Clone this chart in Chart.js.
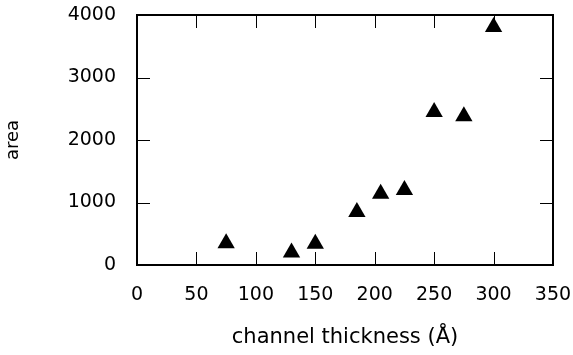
<!DOCTYPE html>
<html>
<head>
<meta charset="utf-8">
<script src="https://cdn.jsdelivr.net/npm/chart.js@4/dist/chart.umd.min.js"></script>
<style>
  html, body { margin: 0; padding: 0; background: #fff; }
  #chart { display: block; }
</style>
</head>
<body>
<canvas id="chart" width="573" height="355"></canvas>
<script>
// donnees
const thickness = [75, 130, 150, 185, 205, 225, 250, 275, 300];
const area = [350, 200, 340, 850, 1140, 1200, 2450, 2380, 3810];
const xTicks = [0, 50, 100, 150, 200, 250, 300, 350];
const yTicks = [0, 1000, 2000, 3000, 4000];

const points = thickness.map((t, i) => ({ x: t, y: area[i] }));

// cadre + graduations vers l'interieur sur les 4 cotes
const boxTicks = {
    id: 'boxTicks',
    afterDraw(chart) {
        const { ctx, chartArea: a, scales } = chart;
        const len = 13;
        ctx.save();
        ctx.strokeStyle = '#000';
        ctx.lineWidth = 1;
        ctx.beginPath();
        xTicks.forEach(v => {
            const px = Math.round(scales.x.getPixelForValue(v)) + 0.5;
            ctx.moveTo(px, a.bottom); ctx.lineTo(px, a.bottom - len);
            ctx.moveTo(px, a.top); ctx.lineTo(px, a.top + len);
        });
        yTicks.forEach(v => {
            const py = Math.round(scales.y.getPixelForValue(v)) + 0.5;
            ctx.moveTo(a.left, py); ctx.lineTo(a.left + len, py);
            ctx.moveTo(a.right, py); ctx.lineTo(a.right - len, py);
        });
        ctx.stroke();
        ctx.lineWidth = 2;
        ctx.strokeRect(a.left, a.top, a.right - a.left, a.bottom - a.top);
        ctx.restore();
    }
};

new Chart(document.getElementById('chart'), {
    type: 'scatter',
    data: {
        datasets: [{
            data: points,
            pointStyle: 'triangle',
            pointRadius: 10,
            pointHoverRadius: 10,
            backgroundColor: '#000',
            borderColor: '#000',
            borderWidth: 0
        }]
    },
    options: {
        responsive: false,
        animation: false,
        events: [],
        layout: { padding: { top: 15, right: 20, left: 0, bottom: 0 } },
        plugins: { legend: { display: false }, tooltip: { enabled: false } },
        scales: {
            x: {
                type: 'linear',
                min: 0, max: 350,
                afterFit: s => { s.height = 90; s.paddingLeft = 0; s.paddingRight = 0; },
                afterBuildTicks: s => { s.ticks = xTicks.map(v => ({ value: v })); },
                grid: { display: false, drawTicks: false },
                border: { display: false },
                ticks: {
                    padding: 19,
                    color: '#000',
                    font: { family: 'DejaVu Sans', size: 19 },
                    callback: v => String(v)
                },
                title: {
                    display: true,
                    text: 'channel thickness (Å)',
                    color: '#000',
                    font: { family: 'DejaVu Sans', size: 21 },
                    padding: { top: 0, bottom: 5 }
                }
            },
            y: {
                type: 'linear',
                min: 0, max: 4000,
                afterFit: s => { s.width = 137; s.paddingTop = 0; s.paddingBottom = 0; },
                afterBuildTicks: s => { s.ticks = yTicks.map(v => ({ value: v })); },
                grid: { display: false, drawTicks: false },
                border: { display: false },
                ticks: {
                    padding: 21,
                    color: '#000',
                    font: { family: 'DejaVu Sans', size: 19 },
                    callback: v => String(v)
                },
                title: {
                    display: true,
                    text: 'area',
                    color: '#000',
                    font: { family: 'DejaVu Sans', size: 18 },
                    padding: { top: 3, bottom: 0 }
                }
            }
        }
    },
    plugins: [boxTicks]
});
</script>
</body>
</html>
